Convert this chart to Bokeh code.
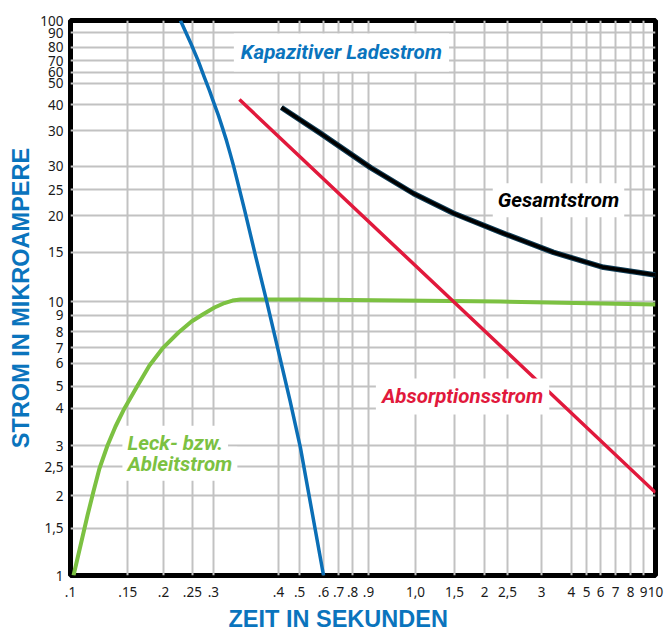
from bokeh.plotting import figure
from bokeh.models import FixedTicker, Label, Title
from bokeh.embed import file_html
from bokeh.resources import INLINE

# ---- data (time in s, current in microampere) ----
kap_t = [0.2377, 0.2463, 0.2580, 0.2729, 0.2871, 0.2987, 0.3097, 0.3204, 0.3304, 0.3415,
         0.3513, 0.3608, 0.3693, 0.394, 0.429, 0.4679, 0.5630, 0.611, 0.733]
kap_i = [100, 92.0, 82.6, 71.8, 62.3, 55.9, 50.2, 45.5, 41.2, 36.9,
         33.2, 30.0, 27.2, 20.7, 14.2, 9.79, 4.27, 2.89, 1.0]

leck_t = [0.1024, 0.1082, 0.1143, 0.1198, 0.1256, 0.1338, 0.1425, 0.1529, 0.1681, 0.1862,
          0.2063, 0.2340, 0.2592, 0.2849, 0.3107, 0.3362, 0.3580, 0.3813,
          0.611, 1.343, 2.95, 10]
leck_i = [1.0, 1.283, 1.645, 2.008, 2.43, 2.94, 3.443, 4.00, 4.76, 5.71,
          6.58, 7.51, 8.23, 8.76, 9.24, 9.59, 9.79, 9.88,
          9.88, 9.79, 9.71, 9.48]

abs_t = [0.378, 1.0, 2.0, 10]
abs_i = [51.9, 19.7, 9.9, 1.99]

ges_t = [0.526, 0.716, 1.061, 1.488, 2.039, 3.022, 4.48, 6.64, 10]
ges_i = [48.6, 39.2, 29.5, 23.8, 20.2, 17.1, 14.6, 12.9, 12.1]

# ---- axis grid (the reference's hand-drawn, irregular grid) ----
x_tick_pos = [0.1, 0.157, 0.208, 0.261, 0.308, 0.514, 0.607, 0.733, 0.825, 0.921, 1.044,
              1.512, 2.055, 2.603, 3.119, 4.077, 5.16, 5.81, 6.49, 7.30, 8.22, 9.10, 10]
x_tick_labels = [".1", ".15", ".2", ".25", ".3", ".4", ".5", ".6", ".7", ".8", ".9",
                 "1,0", "1,5", "2", "2,5", "3", "4", "5", "6", "7", "8", "9", "10"]

y_tick_pos = [100, 90.5, 80, 71.7, 65, 59.3, 49.8, 40, 29.8, 24.6, 19.8, 14.6,
              9.7, 8.65, 7.57, 6.63, 5.81, 4.80, 4.0, 2.94, 2.47, 1.94, 1.48, 1]
y_tick_labels = ["100", "90", "80", "70", "60", "50", "40", "30", "30", "25", "20", "15",
                 "10", "9", "8", "7", "6", "5", "4", "3", "2,5", "2", "1,5", "1"]

BLUE = "#0b6fb6"
GREEN = "#7cc142"
RED = "#e1193c"
TITLE_BLUE = "#0a74bd"

p = figure(width=666, height=636, x_axis_type="log", y_axis_type="log",
           x_range=(0.1, 10), y_range=(1, 100),
           output_backend="svg", toolbar_location=None,
           min_border_left=70, min_border_right=11, min_border_top=20, min_border_bottom=61)

p.background_fill_color = "white"
p.border_fill_color = "white"
p.outline_line_color = "black"
p.outline_line_width = 5

for ax, pos, lab in ((p.xaxis, x_tick_pos, x_tick_labels), (p.yaxis, y_tick_pos, y_tick_labels)):
    ax.ticker = FixedTicker(ticks=pos)
    ax.major_label_overrides = dict(zip(pos, lab))
    ax.axis_line_color = None
    ax.major_tick_line_color = None
    ax.minor_tick_line_color = None
    ax.major_tick_out = 0
    ax.major_tick_in = 0
    ax.major_label_text_font = "Noto Sans"
    ax.major_label_text_font_size = "13.5px"
    ax.major_label_text_color = "#1a1a1a"

p.xaxis.major_label_standoff = 11
p.yaxis.major_label_standoff = 7

p.yaxis.axis_label = "STROM IN MIKROAMPERE"
p.yaxis.axis_label_text_font = "Liberation Sans"
p.yaxis.axis_label_text_font_style = "bold"
p.yaxis.axis_label_text_font_size = "23.5px"
p.yaxis.axis_label_text_color = TITLE_BLUE
p.yaxis.axis_label_standoff = 3

p.add_layout(Title(text="ZEIT IN SEKUNDEN", align="left", offset=158,
                   text_font="Liberation Sans", text_font_style="bold",
                   text_font_size="23.5px", text_color=TITLE_BLUE, standoff=8,
                   text_line_height=0.8, vertical_align="bottom"), "below")

for g in (p.xgrid, p.ygrid):
    g.grid_line_color = "#c2c2c2"
    g.grid_line_width = 2
    g.minor_grid_line_color = None

# curves
p.line(leck_t, leck_i, line_color=GREEN, line_width=4, line_join="round")
p.line(kap_t, kap_i, line_color=BLUE, line_width=3.5, line_join="round")
p.line(abs_t, abs_i, line_color=RED, line_width=3.5)
p.line(ges_t, ges_i, line_color="#0f3c55", line_width=5.5, line_join="round")
p.line(ges_t, ges_i, line_color="black", line_width=3.5, line_join="round")

lab_font = "Roboto"
def make_label(x, y, text, color, align="center", bg=True, pad=6):
    return Label(x=x, y=y, text=text, text_align=align, text_baseline="middle",
                 text_font=lab_font, text_font_style="bold italic", text_font_size="20.5px",
                 text_color="white" if bg else color,
                 background_fill_color="white" if bg else None, padding=pad)

labels = [
    (0.844, 76.7, "Kapazitiver Ladestrom", TITLE_BLUE, "center", 7),
    (4.66, 22.5, "Gesamtstrom", "black", "center", 5),
    (2.19, 4.42, "Absorptionsstrom", RED, "center", 6),
    (0.1505, 3.01, "Leck- bzw.", GREEN, "left", 5),
    (0.1505, 2.53, "Ableitstrom", GREEN, "left", 5),
]
# white boxes first, texts on top
for x, y, t, c, a, pad in labels:
    p.add_layout(make_label(x, y, t, c, a, bg=True, pad=pad))
for x, y, t, c, a, pad in labels:
    p.add_layout(make_label(x, y, t, c, a, bg=False, pad=pad))

open("out.html", "w").write(file_html(p, INLINE))
